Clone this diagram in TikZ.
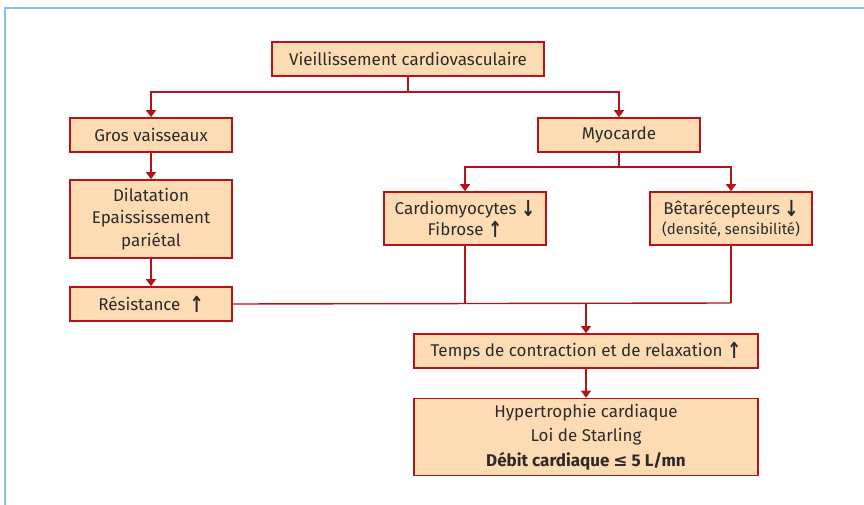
\documentclass[tikz,border=0pt]{standalone}
\usepackage{fontspec}
\usepackage{graphicx}
\setmainfont{Fira Sans}
\newfontfamily\symfont{DejaVu Sans}
\usetikzlibrary{arrows.meta}
\definecolor{boxred}{HTML}{B5121B}
\definecolor{boxfill}{HTML}{FDDCB4}
\definecolor{framblue}{HTML}{85C1EA}
\definecolor{txt}{HTML}{2B2B2B}
\newcommand{\up}{\raisebox{-1.5pt}{\scalebox{1}[1.3]{\symfont\bfseries ↑}}}
\newcommand{\dn}{\raisebox{-1.5pt}{\scalebox{1}[1.3]{\symfont\bfseries ↓}}}
\begin{document}
\begin{tikzpicture}[x=1pt,y=-1pt,
  fbox/.style={draw=boxred,fill=boxfill,line width=1.6pt,inner sep=2pt,align=center,
    font=\fontsize{17}{22.5}\selectfont,text=txt},
  conn/.style={draw=boxred,line width=1.4pt},
  arr/.style={conn,-{Triangle[width=10pt,length=7pt]}}]
\useasboundingbox (0,0) rectangle (864,505);
\draw[framblue,line width=2.5pt] (5,505) -- (5,8) -- (864,8);
\node[fbox,minimum width=272pt,minimum height=34pt] (v) at (408,59) {Vieillissement cardiovasculaire};
\node[fbox,minimum width=162pt,minimum height=34pt] (g) at (151,135) {Gros vaisseaux};
\node[fbox,minimum width=162pt,minimum height=34pt] (m) at (619,135) {Myocarde};
\node[fbox,minimum width=162pt,minimum height=78pt] (d) at (151,219) {Dilatation\\Epaississement\\pariétal};
\node[fbox,minimum width=162pt,minimum height=34pt] (r) at (151,304) {Résistance\ \ \up};
\node[fbox,minimum width=162pt,minimum height=53pt,font=\fontsize{17}{21}\selectfont] (c) at (465,218.5) {Cardiomyocytes \dn\\Fibrose \up};
\node[fbox,minimum width=162pt,minimum height=53pt,font=\fontsize{17}{20}\selectfont] (b) at (731,218.5) {Bêtarécepteurs \dn\\{\fontsize{15}{17}\selectfont(densité, sensibilité)}};
\node[fbox,minimum width=344pt,minimum height=34pt] (t) at (586,351) {Temps de contraction et de relaxation \up};
\node[fbox,minimum width=344pt,minimum height=77pt,font=\fontsize{17}{24.5}\selectfont] (h) at (586,437) {Hypertrophie cardiaque\\Loi de Starling\\\textbf{Débit cardiaque {\symfont\bfseries ≤} 5 L/mn}};
\coordinate (vj) at (408,92);
\coordinate (mj) at (619,167);
\coordinate (rj) at (586,303);
\draw[conn] (v.south) -- (vj);
\draw[arr] (vj) -| (g.north);
\draw[arr] (vj) -| (m.north);
\draw[arr] (g) -- (d);
\draw[arr] (d) -- (r);
\draw[conn] (m.south) -- (mj);
\draw[arr] (mj) -| (c.north);
\draw[arr] (mj) -| (b.north);
\draw[conn] (r.east) -- (rj -| b) coordinate (bj);
\draw[conn] (c.south) -- (c.south |- rj);
\draw[conn] (b.south) -- (bj);
\draw[arr] (rj) -- (t.north);
\draw[arr] (t) -- (h);
\end{tikzpicture}
\end{document}
